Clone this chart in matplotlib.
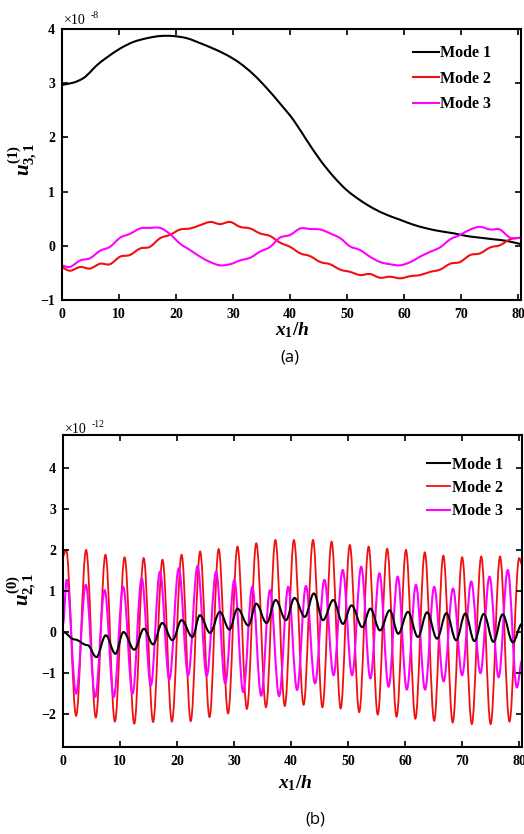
import matplotlib
matplotlib.use("Agg")
import matplotlib.pyplot as plt
from matplotlib.path import Path
from matplotlib.patches import PathPatch
from matplotlib.lines import Line2D

plt.rcParams["font.family"] = ["Liberation Serif", "DejaVu Serif"]
plt.rcParams["mathtext.fontset"] = "custom"
plt.rcParams["mathtext.rm"] = "Liberation Serif:bold"
plt.rcParams["mathtext.bf"] = "Liberation Serif:bold"
plt.rcParams["mathtext.it"] = "Liberation Serif:italic:bold"

LABELS = ["Mode 1", "Mode 2", "Mode 3"]
COLORS = ["black", "#f01010", "#ff00ff"]

# ---- panel (a): u^(1)_{3,1}, values in units of 1e-8 ----
a_x1 = [0, 2.0, 3.7, 4.9, 6.1, 7.8, 10.2, 12.5, 14.9, 17.2, 19.5, 21.9, 24.2,
        26.5, 28.9, 31.2, 33.6, 35.9, 38.2, 40.6, 42.9, 45.3, 47.6, 49.9, 52.3,
        54.6, 57.0, 59.3, 61.6, 64.0, 66.3, 68.7, 71.0, 73.3, 75.7, 78.0, 80.5]
a_mode1 = [2.97, 3.01, 3.09, 3.20, 3.33, 3.47, 3.64, 3.76, 3.83, 3.87, 3.87,
           3.83, 3.74, 3.64, 3.52, 3.37, 3.16, 2.91, 2.63, 2.32, 1.95, 1.58,
           1.28, 1.03, 0.84, 0.69, 0.57, 0.48, 0.39, 0.32, 0.27, 0.23, 0.18,
           0.15, 0.12, 0.09, 0.03]

a_x23 = [0, 1.4, 3.2, 4.9, 6.7, 8.4, 10.2, 11.9, 13.7, 15.4, 17.2, 18.9, 20.7,
         22.5, 24.2, 26.0, 27.7, 29.5, 31.2, 33.0, 34.7, 36.5, 38.2, 40.0,
         41.8, 43.5, 45.3, 47.0, 48.8, 50.5, 52.3, 54.0, 55.8, 57.5, 59.3,
         61.1, 62.8, 64.6, 66.3, 68.1, 69.8, 71.6, 73.3, 75.1, 76.8, 78.6, 80.5]
a_mode2 = [-0.39, -0.46, -0.39, -0.42, -0.33, -0.34, -0.20, -0.17, -0.05,
           -0.02, 0.14, 0.20, 0.30, 0.32, 0.38, 0.44, 0.40, 0.44, 0.35, 0.32,
           0.23, 0.18, 0.06, -0.02, -0.14, -0.19, -0.30, -0.34, -0.44, -0.48,
           -0.54, -0.52, -0.59, -0.57, -0.60, -0.56, -0.54, -0.48, -0.44,
           -0.33, -0.30, -0.17, -0.14, -0.03, 0.01, 0.12, 0.15]
a_mode3 = [-0.36, -0.39, -0.27, -0.23, -0.09, -0.02, 0.15, 0.22, 0.32, 0.33,
           0.33, 0.22, 0.04, -0.08, -0.20, -0.30, -0.36, -0.34, -0.27, -0.22,
           -0.11, -0.02, 0.15, 0.20, 0.32, 0.31, 0.30, 0.23, 0.14, -0.01,
           -0.08, -0.20, -0.30, -0.34, -0.36, -0.30, -0.20, -0.11, -0.03,
           0.12, 0.20, 0.30, 0.35, 0.30, 0.30, 0.15, 0.15]

# ---- panel (b): u^(0)_{2,1}, values in units of 1e-12 ----
# turning points (peaks / troughs) of each oscillating curve
b_x1 = [0, 2.0, 4.3, 5.85, 7.5, 9.2, 10.6, 12.5, 14.2, 15.8, 17.4, 19.2, 20.8,
        22.7, 24.0, 25.8, 27.5, 29.2, 30.6, 32.5, 33.9, 35.7, 37.3, 39.1,
        40.6, 42.4, 44.0, 45.6, 47.4, 49.1, 50.6, 52.5, 53.9, 55.6, 57.3,
        58.8, 60.5, 62.25, 63.85, 65.6, 67.25, 68.95, 70.55, 72.15, 73.8,
        75.5, 77.1, 78.9, 80.5]
b_mode1 = [0.0, -0.18, -0.32, -0.61, -0.08, -0.53, 0.0, -0.43, 0.08, -0.30,
           0.22, -0.20, 0.29, -0.12, 0.41, -0.02, 0.49, 0.06, 0.57, 0.16, 0.69,
           0.22, 0.78, 0.29, 0.83, 0.37, 0.94, 0.29, 0.78, 0.20, 0.65, 0.12,
           0.57, 0.04, 0.53, -0.04, 0.49, -0.12, 0.48, -0.16, 0.46, -0.20,
           0.45, -0.22, 0.44, -0.24, 0.43, -0.25, 0.2]

b_x2 = [0, 0.55, 2.3, 4.05, 5.75, 7.45, 9.1, 10.8, 12.5, 14.15, 15.8, 17.45,
        19.1, 20.8, 22.4, 24.05, 25.7, 27.3, 28.95, 30.6, 32.25, 33.9, 35.6,
        37.25, 38.9, 40.5, 42.2, 43.85, 45.5, 47.1, 48.7, 50.3, 51.95, 53.6,
        55.2, 56.85, 58.5, 60.15, 61.8, 63.45, 65.1, 66.7, 68.35, 70.0, 71.7,
        73.35, 75.0, 76.65, 78.3, 80.0, 80.5]
b_mode2 = [1.85, 2.0, -2.04, 2.0, -2.08, 1.88, -2.18, 1.82, -2.23, 1.80,
           -2.19, 1.76, -2.18, 1.88, -2.17, 1.96, -2.07, 2.02, -1.98, 2.08,
           -1.87, 2.16, -1.83, 2.24, -1.80, 2.24, -1.77, 2.24, -1.83, 2.20,
           -1.86, 2.12, -1.95, 2.08, -2.01, 2.03, -2.06, 2.0, -2.11, 1.94,
           -2.16, 1.86, -2.20, 1.82, -2.24, 1.84, -2.24, 1.84, -2.18, 1.80,
           1.65]

b_x3 = [0, 0.65, 2.3, 4.0, 5.65, 7.3, 8.9, 10.55, 12.2, 13.8, 15.4, 17.0,
        18.65, 20.3, 21.95, 23.6, 25.2, 26.85, 28.45, 30.05, 31.6, 33.2, 34.75,
        36.3, 37.9, 39.5, 41.05, 42.6, 44.2, 45.85, 47.45, 49.05, 50.7, 52.3,
        53.9, 55.5, 57.1, 58.7, 60.3, 61.9, 63.5, 65.1, 66.75, 68.4, 70.0,
        71.6, 73.2, 74.8, 76.4, 78.0, 79.6, 80.5]
b_mode3 = [0.2, 1.27, -1.50, 1.15, -1.58, 1.02, -1.58, 1.10, -1.50, 1.31,
           -1.30, 1.47, -1.15, 1.55, -1.05, 1.61, -1.07, 1.47, -1.25, 1.27,
           -1.46, 1.10, -1.55, 1.02, -1.56, 1.10, -1.41, 1.12, -1.25, 1.27,
           -1.05, 1.51, -1.05, 1.59, -1.13, 1.43, -1.33, 1.35, -1.40, 1.15,
           -1.40, 1.10, -1.20, 1.06, -1.05, 1.23, -1.00, 1.35, -1.10, 1.51,
           -1.35, -0.7]

XTICKS = [0, 10, 20, 30, 40, 50, 60, 70, 80]
A_YTICKS = [-1, 0, 1, 2, 3, 4]
B_YTICKS = [-2, -1, 0, 1, 2, 3, 4]


def wave_path(xs, ys, k=0.364):
    """Smooth curve through turning points (cubic Bezier, flat tangents)."""
    verts = [(xs[0], ys[0])]
    codes = [Path.MOVETO]
    for i in range(1, len(xs)):
        dx = xs[i] - xs[i - 1]
        verts += [(xs[i - 1] + k * dx, ys[i - 1]),
                  (xs[i] - k * dx, ys[i]),
                  (xs[i], ys[i])]
        codes += [Path.CURVE4] * 3
    return Path(verts, codes)


def smooth_path(xs, ys):
    """Catmull-Rom style Bezier curve through the sampled points."""
    n = len(xs)
    verts = [(xs[0], ys[0])]
    codes = [Path.MOVETO]
    for i in range(n - 1):
        i0, i3 = max(i - 1, 0), min(i + 2, n - 1)
        c1 = (xs[i] + (xs[i + 1] - xs[i0]) / 6, ys[i] + (ys[i + 1] - ys[i0]) / 6)
        c2 = (xs[i + 1] - (xs[i3] - xs[i]) / 6,
              ys[i + 1] - (ys[i3] - ys[i]) / 6)
        verts += [c1, c2, (xs[i + 1], ys[i + 1])]
        codes += [Path.CURVE4] * 3
    return Path(verts, codes)


def style_axes(ax, yticks, ylim):
    ax.set_xlim(0, 80.5)
    ax.set_ylim(*ylim)
    ax.set_xticks(XTICKS)
    ax.set_yticks(yticks)
    ax.tick_params(direction="in", top=True, right=True, length=4, width=1.2,
                   labelsize=10)
    ax.tick_params(axis="x", pad=6)
    ax.tick_params(axis="y", pad=5)
    for lab in ax.get_xticklabels() + ax.get_yticklabels():
        lab.set_fontweight("bold")
    for sp in ax.spines.values():
        sp.set_linewidth(1.5)


def legend_handles(lws):
    return [Line2D([], [], color=c, lw=w) for c, w in zip(COLORS, lws)]


fig = plt.figure(figsize=(5.24, 8.34), dpi=100)

# panel (a)
ax1 = fig.add_axes([62 / 524, 1 - 300 / 834, 459 / 524, 271 / 834])
for xs, ys, c in [(a_x1, a_mode1, COLORS[0]), (a_x23, a_mode2, COLORS[1]),
                  (a_x23, a_mode3, COLORS[2])]:
    ax1.add_patch(PathPatch(smooth_path(xs, ys), fill=False, edgecolor=c,
                            lw=1.5))
style_axes(ax1, A_YTICKS, (-1, 4))
ax1.set_xlabel(r"$x_1/h$", fontsize=14)
ax1.xaxis.set_label_coords(0.501, -0.075)
ax1.set_ylabel(r"$u^{(1)}_{3,1}$", fontsize=15)
ax1.yaxis.set_label_coords(-0.05, 0.52)
ax1.legend(legend_handles([1.5, 1.5, 1.5]), LABELS, loc="upper left",
           bbox_to_anchor=(0.765, 0.94), frameon=False, borderpad=0,
           borderaxespad=0, handlelength=1.6, handletextpad=0.1,
           labelspacing=0.6, prop={"family": "Liberation Serif",
                                   "weight": "bold", "size": 11.5})
ax1.text(0.004, 1.008, "\u00d710", transform=ax1.transAxes, fontsize=10,
         ha="left", va="bottom")
ax1.text(0.062, 1.035, "-8", transform=ax1.transAxes, fontsize=7,
         ha="left", va="bottom")

# panel (b)
ax2 = fig.add_axes([63 / 524, 1 - 747 / 834, 459 / 524, 312 / 834])
ax2.add_patch(PathPatch(wave_path(b_x2, b_mode2), fill=False,
                        edgecolor=COLORS[1], lw=1.3))
ax2.add_patch(PathPatch(wave_path(b_x3, b_mode3), fill=False,
                        edgecolor=COLORS[2], lw=1.5))
ax2.add_patch(PathPatch(wave_path(b_x1, b_mode1), fill=False,
                        edgecolor=COLORS[0], lw=1.5))
style_axes(ax2, B_YTICKS, (-2.8, 4.8))
ax2.set_xlabel(r"$x_1/h$", fontsize=14)
ax2.xaxis.set_label_coords(0.505, -0.085)
ax2.set_ylabel(r"$u^{(0)}_{2,1}$", fontsize=15)
ax2.yaxis.set_label_coords(-0.055, 0.505)
ax2.legend(legend_handles([1.5, 1.3, 1.5]), LABELS, loc="upper left",
           bbox_to_anchor=(0.793, 0.93), frameon=False, borderpad=0,
           borderaxespad=0, handlelength=1.45, handletextpad=0.1,
           labelspacing=0.45, prop={"family": "Liberation Serif",
                                    "weight": "bold", "size": 11.5})
ax2.text(0.004, 0.998, "\u00d710", transform=ax2.transAxes, fontsize=10,
         ha="left", va="bottom")
ax2.text(0.062, 1.018, "-12", transform=ax2.transAxes, fontsize=7,
         ha="left", va="bottom")

fig.text(290 / 524, 1 - 358 / 834, "(a)", ha="center", va="center",
         fontsize=12, family="Open Sans")
fig.text(315 / 524, 1 - 820 / 834, "(b)", ha="center", va="center",
         fontsize=12, family="Open Sans")

fig.savefig("out.png", dpi=100)
